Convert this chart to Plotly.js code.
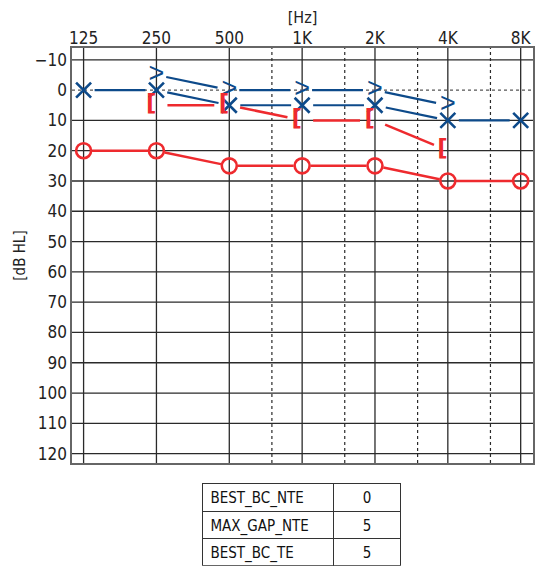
<!DOCTYPE html>
<html><head><meta charset="utf-8">
<script src="https://cdn.plot.ly/plotly-3.0.1.min.js"></script>
<style>html,body{margin:0;padding:0;background:#fff;overflow:hidden}</style>
</head><body><div id="chart" style="width:535px;height:566px"></div>
<script>
// ---- data ----
const freqs = [125, 250, 500, 1000, 2000, 4000, 8000];
const freqLabels = ['125', '250', '500', '1K', '2K', '4K', '8K'];
const midFreqs = [750, 1500, 3000, 6000];
const levels = [-10, 0, 10, 20, 30, 40, 50, 60, 70, 80, 90, 100, 110, 120];
const levelLabels = ['\u221210', '0', '10', '20', '30', '40', '50', '60', '70', '80', '90', '100', '110', '120'];
const dottedLevels = [0];
const acRight = [20, 20, 25, 25, 25, 30, 30];      // red O
const acLeft = [0, 0, 5, 5, 5, 10, 10];            // blue X
const bcLeftFreqs = [250, 500, 1000, 2000, 4000];  // blue >
const bcLeft = [-5, 0, 0, 0, 5];
const bcRightFreqs = [250, 500, 1000, 2000, 4000]; // red [
const bcRight = [5, 5, 10, 10, 20];
const tableNames = ['BEST_BC_NTE', 'MAX_GAP_NTE', 'BEST_BC_TE'];
const tableValues = ['0', '5', '5'];

// ---- geometry helpers ----
const XR = [2.049, 3.954], YR = [123.1, -13.9];
const W = 461, H = 415;
function toPx(f, d) { return [(Math.log10(f) - XR[0]) / (XR[1] - XR[0]) * W, (d - YR[1]) / (YR[0] - YR[1]) * H]; }
function fromPx(px, py) { return [Math.pow(10, XR[0] + px / W * (XR[1] - XR[0])), YR[1] + py / H * (YR[0] - YR[1])]; }
function gapped(xs, ys, g0, g1) {
  const ox = [], oy = [];
  for (let i = 0; i < xs.length - 1; i++) {
    const a = toPx(xs[i], ys[i]), b = toPx(xs[i + 1], ys[i + 1]);
    const dx = b[0] - a[0], dy = b[1] - a[1], L = Math.hypot(dx, dy);
    const ux = dx / L, uy = dy / L;
    const s = fromPx(a[0] + ux * g0, a[1] + uy * g0);
    const e = fromPx(b[0] - ux * g1, b[1] - uy * g1);
    ox.push(s[0], e[0], null); oy.push(s[1], e[1], null);
  }
  return { x: ox, y: oy };
}
function vlines(fs) { const x = [], y = []; fs.forEach(f => { x.push(f, f, null); y.push(YR[0], YR[1], null); }); return { x, y }; }
function hlines(ls) { const x = [], y = []; const xa = Math.pow(10, XR[0]), xb = Math.pow(10, XR[1]); ls.forEach(l => { x.push(xa, xb, null); y.push(l, l, null); }); return { x, y }; }

const BLUE = '#0d4a8a', RED = '#ee2a2e', GRID = '#2a2a2a';
const FONT = '"Liberation Sans Narrow", "DejaVu Sans Condensed", "Arial Narrow", sans-serif';

const vSolid = vlines(freqs), vDot = vlines(midFreqs);
const hSolid = hlines(levels.filter(l => dottedLevels.indexOf(l) < 0)), hDot = hlines(dottedLevels);
const gRed = gapped(freqs, acRight, 8.5, 8.5);
const gX = gapped(freqs, acLeft, 11, 11);
const gGt = gapped(bcLeftFreqs, bcLeft, 10, 12);
const gBr = gapped(bcRightFreqs, bcRight, 11, 15);

const gl = { type: 'scatter', mode: 'lines', hoverinfo: 'skip', showlegend: false };
const traces = [
  Object.assign({}, gl, { x: vSolid.x, y: vSolid.y, line: { color: GRID, width: 1.3 } }),
  Object.assign({}, gl, { x: vDot.x, y: vDot.y, line: { color: GRID, width: 1.2, dash: 'dot' } }),
  Object.assign({}, gl, { x: hSolid.x, y: hSolid.y, line: { color: GRID, width: 1.3 } }),
  Object.assign({}, gl, { x: hDot.x, y: hDot.y, line: { color: '#555', width: 1.2, dash: 'dot' } }),
  Object.assign({}, gl, { x: gRed.x, y: gRed.y, line: { color: RED, width: 2.5 } }),
  Object.assign({}, gl, { x: gX.x, y: gX.y, line: { color: BLUE, width: 2.2 } }),
  Object.assign({}, gl, { x: gGt.x, y: gGt.y, line: { color: BLUE, width: 2.2 } }),
  Object.assign({}, gl, { x: gBr.x, y: gBr.y, line: { color: RED, width: 2.5 } }),
  { type: 'scatter', mode: 'markers', x: freqs, y: acRight, showlegend: false,
    marker: { symbol: 'circle-open', size: 15, color: RED, line: { color: RED, width: 2.6 } } },
  { type: 'scatter', mode: 'markers', x: freqs, y: acLeft, showlegend: false,
    marker: { symbol: 'x-thin-open', size: 15, color: BLUE, line: { color: BLUE, width: 2.6 } } },
  { type: 'scatter', mode: 'text', x: bcLeftFreqs, y: bcLeft, text: bcLeftFreqs.map(() => '>'), showlegend: false,
    textposition: 'middle center', textfont: { family: '"Liberation Sans", Arial, sans-serif', size: 27, color: BLUE } },
  { type: 'scatter', mode: 'text', x: bcRightFreqs, y: bcRight, text: bcRightFreqs.map(() => '['), showlegend: false,
    textposition: 'middle left', textfont: { family: '"DejaVu Sans", sans-serif', size: 23, weight: 'bold', color: RED } },
  { type: 'table', domain: { x: [0.283, 0.7137], y: [0, 0.159] }, columnwidth: [132, 67],
    header: { values: [tableNames[0], tableValues[0]], height: 28, align: ['left', 'center'],
      line: { color: '#333', width: 1 }, fill: { color: '#fff' }, font: { family: FONT, size: 15, color: '#111' } },
    cells: { values: [tableNames.slice(1), tableValues.slice(1)], height: 27, align: ['left', 'center'],
      line: { color: '#333', width: 1 }, fill: { color: '#fff' }, font: { family: FONT, size: 15, color: '#111' } } }
];

const layout = {
  width: 535, height: 566,
  margin: { l: 72, r: 2, t: 48, b: 0, pad: 0 },
  paper_bgcolor: '#fff', plot_bgcolor: '#fff',
  showlegend: false,
  font: { family: FONT, size: 17, color: '#222' },
  xaxis: { type: 'log', range: XR, side: 'top', tickmode: 'array', tickvals: freqs, ticktext: freqLabels,
    showgrid: false, zeroline: false, ticks: '', showline: true, mirror: true, linecolor: '#666', linewidth: 1.6,
    ticklabelstandoff: -4,
    tickfont: { family: FONT, size: 17, color: '#222' },
    title: { text: '[Hz]', font: { family: FONT, size: 16, color: '#222' }, standoff: 0 } },
  yaxis: { range: YR, domain: [0.19884, 1], tickmode: 'array', tickvals: levels, ticktext: levelLabels,
    showgrid: false, zeroline: false, ticks: '', showline: true, mirror: true, linecolor: '#666', linewidth: 1.6,
    tickfont: { family: FONT, size: 17, color: '#222' },
    title: { text: '[dB HL]', font: { family: FONT, size: 15, color: '#222' }, standoff: 5 } }
};

Plotly.newPlot('chart', traces, layout, { displayModeBar: false, staticPlot: true });
</script></body></html>
